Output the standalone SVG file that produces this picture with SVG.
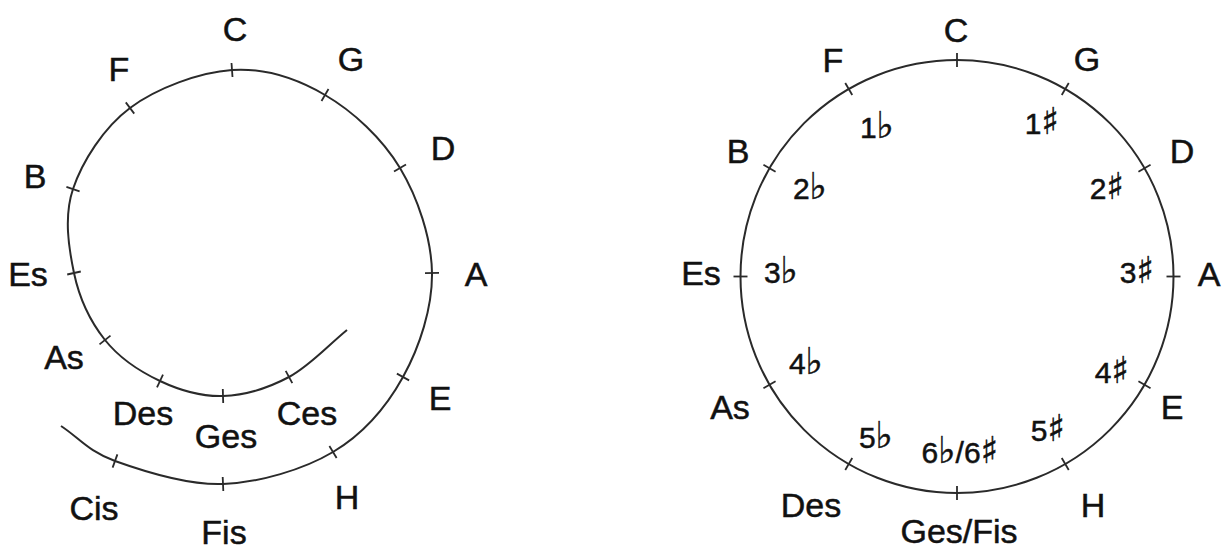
<svg xmlns="http://www.w3.org/2000/svg" width="1225" height="549" viewBox="0 0 1225 549">
<style>
  .line{fill:none;stroke:#2a2a2a;stroke-width:2}
  .tick{stroke:#2a2a2a;stroke-width:1.8;fill:none}
  .lbl{font-family:"Liberation Sans","DejaVu Sans",Arial,sans-serif;font-size:34px;fill:#111;stroke:#111;stroke-width:0.5;text-anchor:middle}
  .num{font-family:"Liberation Sans","DejaVu Sans",Arial,sans-serif;font-size:30px;fill:#111;stroke:#111;stroke-width:0.5;text-anchor:middle}
  .acc{font-family:"DejaVu Sans",sans-serif;font-size:37px}
</style>
<rect width="1225" height="549" fill="#ffffff"/>

<!-- Left: spiral of fifths -->
<g id="spiral">
  <path class="line" d="M347,330 C327.7,345.7 309.7,366 289,377 C268.3,388 244.5,395.3 223,396 C201.5,396.7 179.7,390.3 160,381 C140.3,371.7 119.3,358 105,340 C90.7,322 79.3,298.2 74,273 C68.7,247.8 63.7,216.5 73,189 C82.3,161.5 103.5,127.8 130,108 C156.5,88.2 199.5,72.2 232,70 C264.5,67.8 297,78.7 325,95 C353,111.3 382.2,138.3 400,168 C417.8,197.7 431.5,238.2 432,273 C432.5,307.8 419.5,347.2 403,377 C386.5,406.8 363,434.2 333,452 C303,469.8 259.3,482.5 223,484 C186.7,485.5 142,470.7 115,461 C88,451.3 79,437.7 61,426"/>
  <g id="spiral-ticks" class="tick">
    <line x1="285.7" y1="370.8" x2="292.3" y2="383.2"/>
    <line x1="222.8" y1="389" x2="223.2" y2="403"/>
    <line x1="163" y1="374.7" x2="157" y2="387.3"/>
    <line x1="110.5" y1="335.6" x2="99.5" y2="344.4"/>
    <line x1="80.8" y1="271.5" x2="67.2" y2="274.5"/>
    <line x1="79.6" y1="191.3" x2="66.4" y2="186.8"/>
    <line x1="134.2" y1="113.6" x2="125.8" y2="102.4"/>
    <line x1="232.5" y1="77" x2="231.5" y2="63"/>
    <line x1="321.5" y1="101" x2="328.5" y2="89"/>
    <line x1="394" y1="171.6" x2="406" y2="164.4"/>
    <line x1="425" y1="273.1" x2="439" y2="272.9"/>
    <line x1="396.9" y1="373.6" x2="409.1" y2="380.4"/>
    <line x1="329.4" y1="446" x2="336.6" y2="458"/>
    <line x1="222.7" y1="477" x2="223.3" y2="491"/>
    <line x1="117.4" y1="454.4" x2="112.6" y2="467.6"/>
  </g>
</g>
<g id="spiral-labels">
  <g id="l-C"><text class="lbl" x="235" y="40.5">C</text></g>
  <g id="l-F"><text class="lbl" x="119" y="80.5">F</text></g>
  <g id="l-G"><text class="lbl" x="351" y="70.5">G</text></g>
  <g id="l-D"><text class="lbl" x="443" y="159.5">D</text></g>
  <g id="l-B"><text class="lbl" x="35" y="187.5">B</text></g>
  <g id="l-Es"><text class="lbl" x="28" y="285.5">Es</text></g>
  <g id="l-A"><text class="lbl" x="476" y="285.5">A</text></g>
  <g id="l-As"><text class="lbl" x="64" y="368.5">As</text></g>
  <g id="l-Des"><text class="lbl" x="143" y="425">Des</text></g>
  <g id="l-Ges"><text class="lbl" x="226" y="447.5">Ges</text></g>
  <g id="l-Ces"><text class="lbl" x="307" y="425">Ces</text></g>
  <g id="l-E"><text class="lbl" x="440" y="410">E</text></g>
  <g id="l-Cis"><text class="lbl" x="94" y="519.5">Cis</text></g>
  <g id="l-Fis"><text class="lbl" x="224" y="544">Fis</text></g>
  <g id="l-H"><text class="lbl" x="347" y="509">H</text></g>
</g>

<!-- Right: circle of fifths -->
<g id="circle">
  <circle class="line" cx="957" cy="276.5" r="216.5"/>
  <g id="circle-ticks" class="tick">
    <line x1="957" y1="67" x2="957" y2="53"/>
    <line x1="1061.75" y1="95.07" x2="1068.75" y2="82.95"/>
    <line x1="1138.43" y1="171.75" x2="1150.55" y2="164.75"/>
    <line x1="1166.5" y1="276.5" x2="1180.5" y2="276.5"/>
    <line x1="1138.43" y1="381.25" x2="1150.55" y2="388.25"/>
    <line x1="1061.75" y1="457.93" x2="1068.75" y2="470.05"/>
    <line x1="957" y1="486" x2="957" y2="500"/>
    <line x1="852.25" y1="457.93" x2="845.25" y2="470.05"/>
    <line x1="775.57" y1="381.25" x2="763.45" y2="388.25"/>
    <line x1="747.5" y1="276.5" x2="733.5" y2="276.5"/>
    <line x1="775.57" y1="171.75" x2="763.45" y2="164.75"/>
    <line x1="852.25" y1="95.07" x2="845.25" y2="82.95"/>
  </g>
</g>
<g id="circle-labels">
  <g id="r-C"><text class="lbl" x="956" y="42">C</text></g>
  <g id="r-G"><text class="lbl" x="1087" y="71">G</text></g>
  <g id="r-D"><text class="lbl" x="1182" y="163">D</text></g>
  <g id="r-A"><text class="lbl" x="1209" y="286">A</text></g>
  <g id="r-E"><text class="lbl" x="1172" y="419">E</text></g>
  <g id="r-H"><text class="lbl" x="1093" y="517">H</text></g>
  <g id="r-GesFis"><text class="lbl" x="959" y="543">Ges/Fis</text></g>
  <g id="r-Des"><text class="lbl" x="811" y="517">Des</text></g>
  <g id="r-As"><text class="lbl" x="730" y="419">As</text></g>
  <g id="r-Es"><text class="lbl" x="701" y="285">Es</text></g>
  <g id="r-B"><text class="lbl" x="738" y="163">B</text></g>
  <g id="r-F"><text class="lbl" x="833" y="72">F</text></g>
</g>
<g id="key-signatures">
  <g id="k-1b"><text class="num" x="877" y="138">1<tspan class="acc">♭</tspan></text></g>
  <g id="k-1s"><text class="num" x="1042" y="134">1<tspan class="acc">♯</tspan></text></g>
  <g id="k-2b"><text class="num" x="810" y="199">2<tspan class="acc">♭</tspan></text></g>
  <g id="k-2s"><text class="num" x="1107" y="199">2<tspan class="acc">♯</tspan></text></g>
  <g id="k-3b"><text class="num" x="781" y="283">3<tspan class="acc">♭</tspan></text></g>
  <g id="k-3s"><text class="num" x="1137" y="283">3<tspan class="acc">♯</tspan></text></g>
  <g id="k-4b"><text class="num" x="806" y="374">4<tspan class="acc">♭</tspan></text></g>
  <g id="k-4s"><text class="num" x="1112" y="383">4<tspan class="acc">♯</tspan></text></g>
  <g id="k-5b"><text class="num" x="876" y="448">5<tspan class="acc">♭</tspan></text></g>
  <g id="k-5s"><text class="num" x="1048" y="441">5<tspan class="acc">♯</tspan></text></g>
  <g id="k-6"><text class="num" x="960" y="463">6<tspan class="acc">♭</tspan>/6<tspan class="acc">♯</tspan></text></g>
</g>
</svg>
